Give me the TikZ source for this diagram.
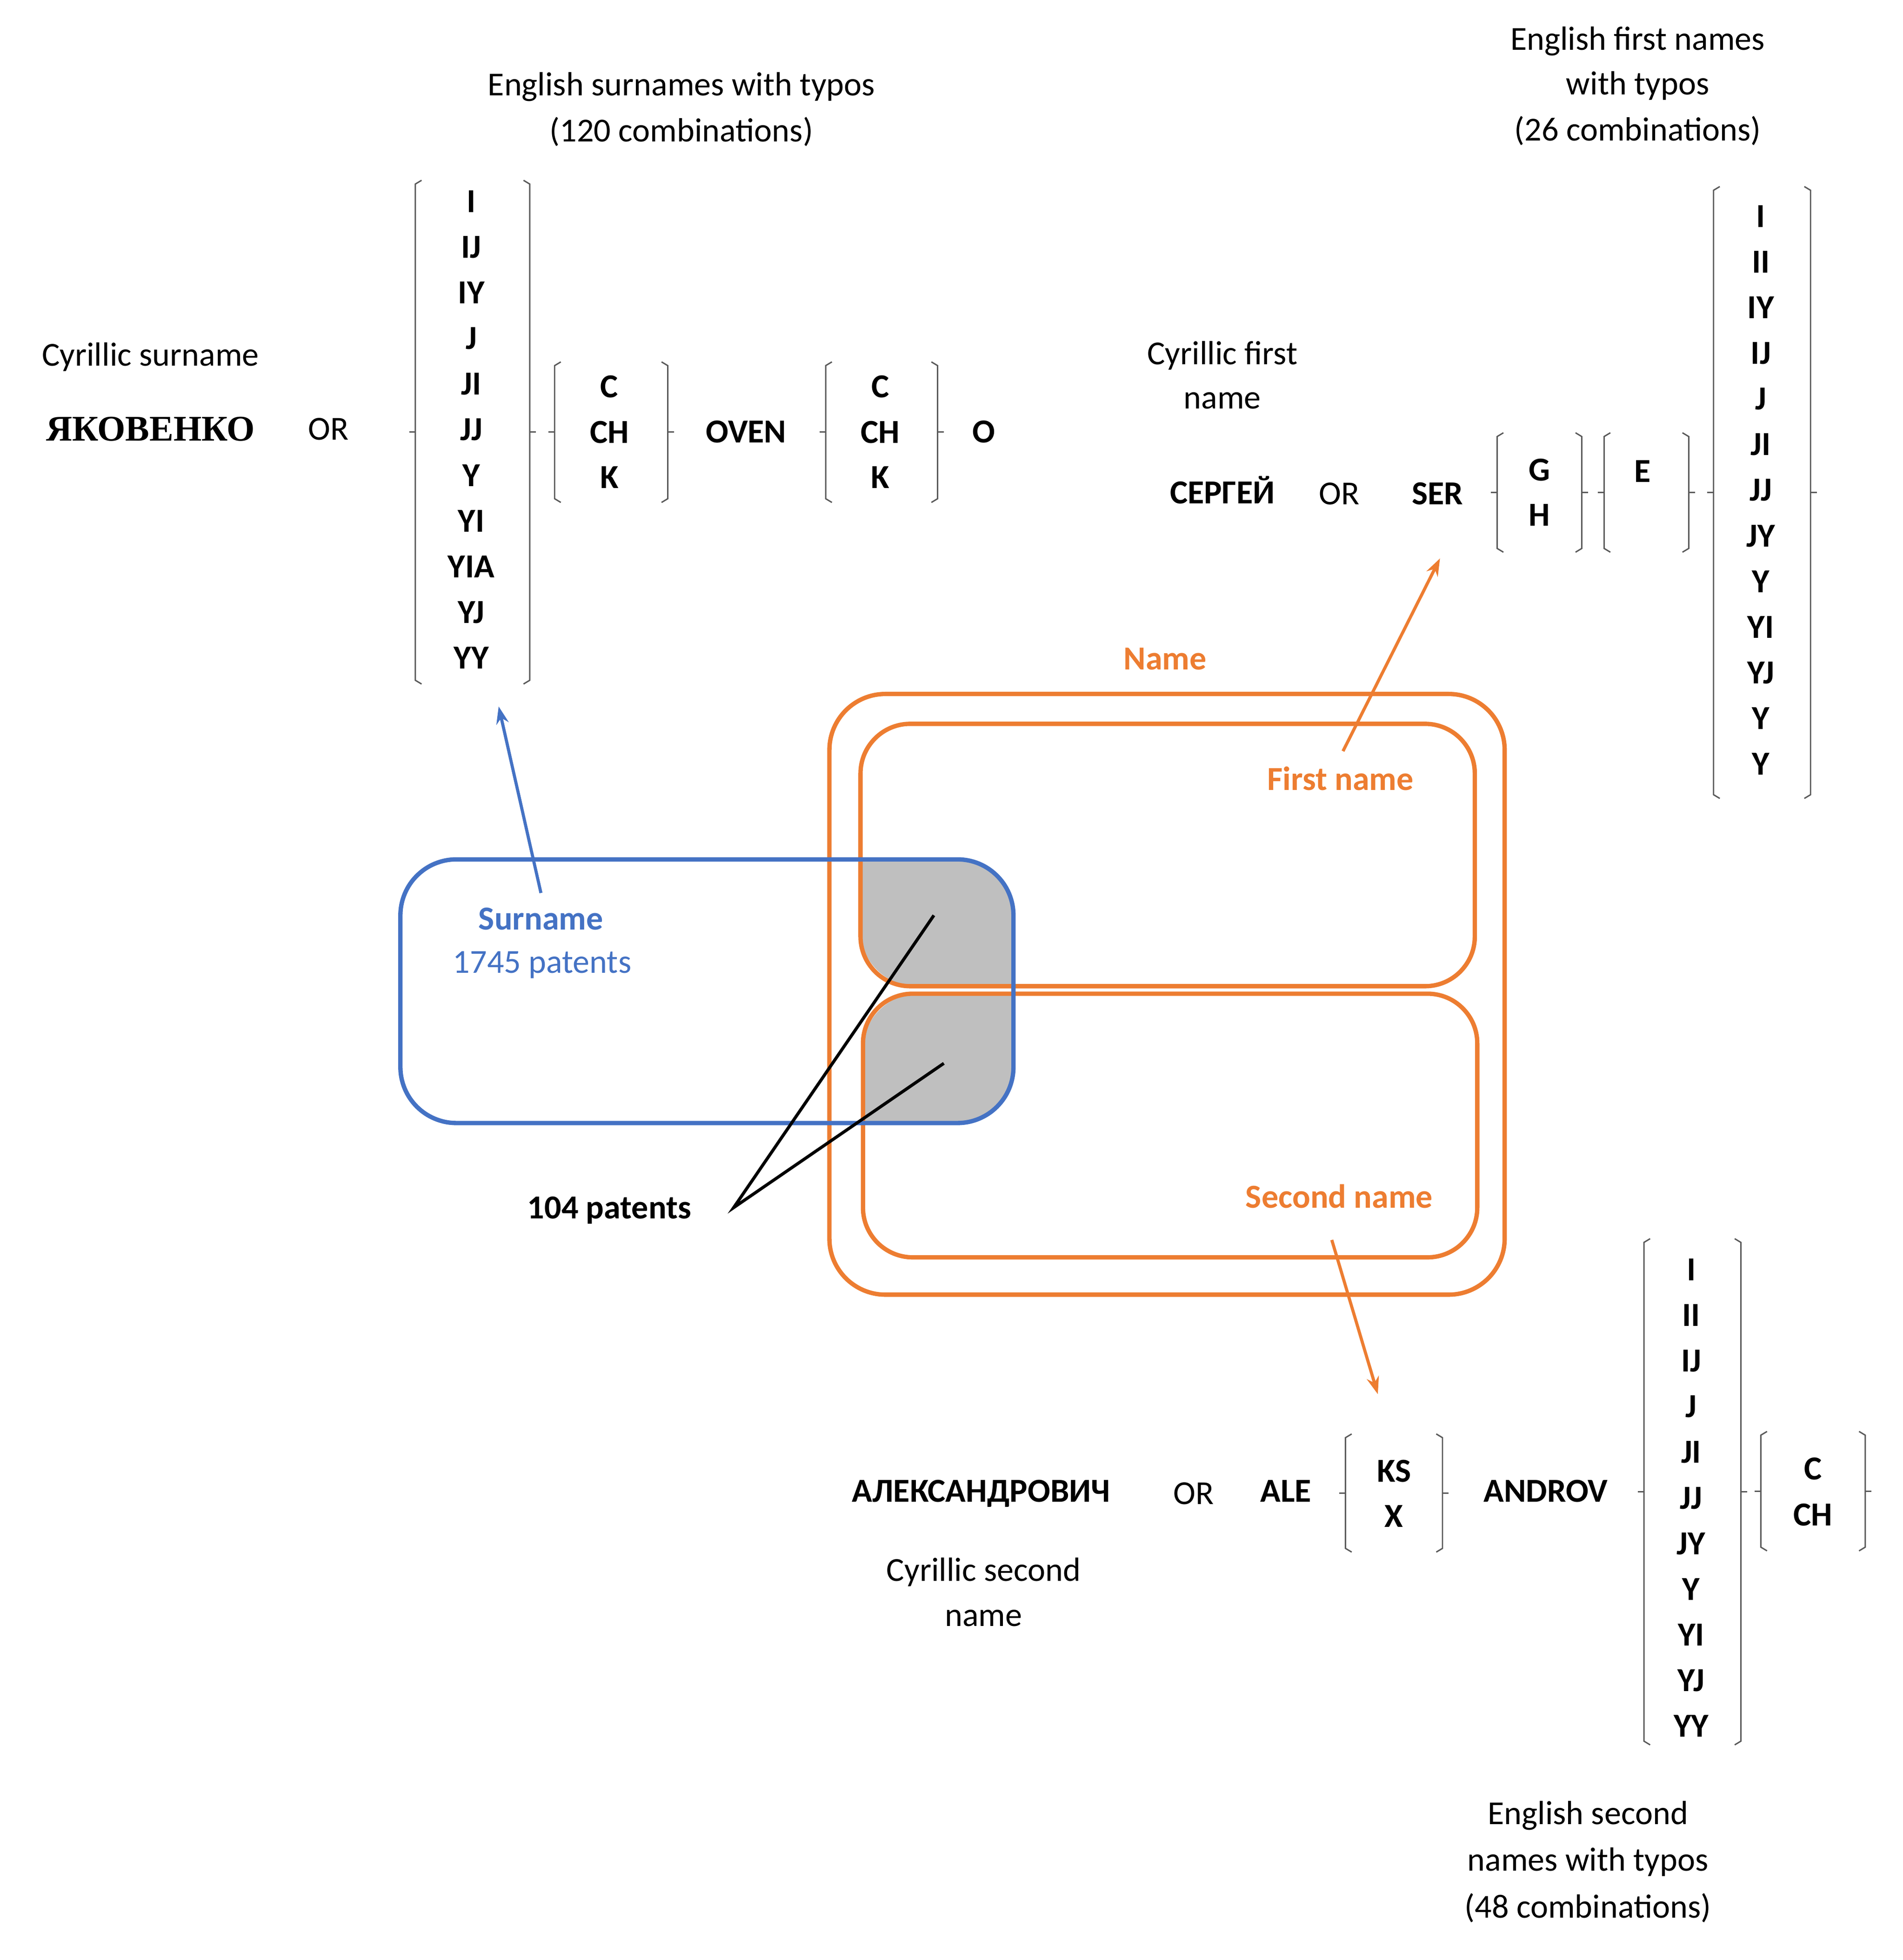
\documentclass[tikz,border=0pt]{standalone}
\usepackage{fontspec}
\setmainfont{Carlito}
\newfontfamily\serifcyr{Liberation Serif}
\usetikzlibrary{arrows.meta}
\definecolor{orng}{HTML}{ED7D31}
\definecolor{blu}{HTML}{4472C4}
\definecolor{gry}{HTML}{BFBFBF}
\tikzset{
 t/.style={font=\fontsize{27}{36}\selectfont,align=center,inner sep=0pt},
 b/.style={t,font=\fontsize{27}{36}\selectfont\bfseries},
 brk/.style={draw=black!65,line width=1.1pt},
 ob/.style={draw=orng,line width=3.5pt,rounded corners=45pt},
 arr/.style={line width=2.5pt,-{Stealth[length=14pt,width=10pt]}},
}
\newcommand{\mybrk}[4]{%
 \draw[brk] (#1+5,#2)--(#1,#2+3)--(#1,#4-3)--(#1+5,#4);
 \draw[brk] (#3-5,#2)--(#3,#2+3)--(#3,#4-3)--(#3-5,#4);
 \draw[brk] (#1-5,{(#2+#4)/2})--(#1,{(#2+#4)/2});
 \draw[brk] (#3,{(#2+#4)/2})--(#3+5,{(#2+#4)/2});}
\begin{document}
\begin{tikzpicture}[x=1pt,y=-1pt]
\useasboundingbox (0,0) rectangle (1530,1576);
% gray intersections
\begin{scope}
\clip[rounded corners=45pt] (322,691) rectangle (815,903);
\fill[gry,rounded corners=45pt] (692,582) rectangle (1186,793);
\fill[gry,rounded corners=45pt] (694,799) rectangle (1188,1011);
\end{scope}
\draw[ob] (667,558) rectangle (1210,1041);
\draw[ob,rounded corners=40pt] (692,582) rectangle (1186,793);
\draw[ob,rounded corners=40pt] (694,799) rectangle (1188,1011);
\draw[draw=blu,line width=3.5pt,rounded corners=45pt] (322,691) rectangle (815,903);
% labels
\node[b,text=orng] (nm) at (937,530) {Name};
\node[b,text=orng] (fn) at (1078,626) {First name};
\node[b,text=orng] (sn) at (1077,962) {Second name};
\node[b,text=blu] (su) at (435,739) {Surname};
\node[t,text=blu] (sp) at (436,776) {1745 patents};
\node[b] (pt) at (490,973) {104 patents};
\coordinate (pa) at (590,971);
\coordinate (g1) at (751,736);
\coordinate (g2) at (759,855);
\draw[line width=2.5pt] (g1)--(pa)--(g2);
% arrows
\coordinate (ba) at (435,718); \coordinate (bb) at (401,568);
\draw[arr,blu] (ba)--(bb);
\coordinate (oa) at (1080,604); \coordinate (obb) at (1158,449);
\draw[arr,orng] (oa)--(obb);
\coordinate (sa) at (1071,997); \coordinate (sb) at (1108,1121);
\draw[arr,orng] (sa)--(sb);
% surname
\node[t] (es1) at (548,70) {English surnames with typos};
\node[t] (es2) at (548,106) {(120 combinations)};
\node[t] (cs) at (121,287) {Cyrillic surname};
\node[inner sep=0pt,font=\fontsize{29}{36}\selectfont\serifcyr\bfseries] (ys) at (121,345) {ЯКОВЕНКО};
\node[t] (or1) at (264,345) {OR};
\mybrk{334}{145}{426}{550}
\foreach \s [count=\i from 0] in {I,IJ,IY,J,JI,JJ,Y,YI,YIA,YJ,YY}
  \node[b] (sa\i) at (379,162+36.7*\i) {\s};
\mybrk{446}{291}{537}{404}
\foreach \s [count=\i from 0] in {C,CH,K} \node[b] (sc\i) at (490,311+36.5*\i) {\s};
\node[b] (oven) at (600,347) {OVEN};
\mybrk{664}{291}{754}{404}
\foreach \s [count=\i from 0] in {C,CH,K} \node[b] (sd\i) at (708,311+36.5*\i) {\s};
\node[b] (oo) at (791,347) {O};
% first name
\node[t] (ef1) at (1317,33) {English first names};
\node[t] (ef2) at (1317,69) {with typos};
\node[t] (ef3) at (1317,105) {(26 combinations)};
\node[t] (cf1) at (983,286) {Cyrillic first};
\node[t] (cf2) at (983,322) {name};
\node[b] (serg) at (983,394) {СЕРГЕЙ};
\node[t] (or2) at (1077,397) {OR};
\node[b] (ser) at (1156,397) {SER};
\mybrk{1204}{348}{1272}{444}
\node[b] (fg) at (1238,378) {G};
\node[b] (fh) at (1238,414) {H};
\mybrk{1290}{348}{1358}{444}
\node[b] (fe) at (1321,379) {E};
\mybrk{1378}{150}{1456}{642}
\foreach \s [count=\i from 0] in {I,II,IY,IJ,J,JI,JJ,JY,Y,YI,YJ,Y,Y}
  \node[b] (fa\i) at (1416,174+36.7*\i) {\s};
% second name
\node[b] (alek) at (789,1201) {АЛЕКСАНДРОВИЧ};
\node[t] (or3) at (960,1201) {OR};
\node[b] (ale) at (1034,1199) {ALE};
\mybrk{1082}{1153}{1160}{1248}
\node[b] (ks) at (1121,1183) {KS};
\node[b] (kx) at (1121,1219) {X};
\node[b] (andr) at (1243,1199) {ANDROV};
\mybrk{1322}{996}{1400}{1403}
\foreach \s [count=\i from 0] in {I,II,IJ,J,JI,JJ,JY,Y,YI,YJ,YY}
  \node[b] (na\i) at (1360,1021+36.7*\i) {\s};
\mybrk{1416}{1151}{1500}{1247}
\node[b] (nc) at (1458,1181) {C};
\node[b] (nch) at (1458,1218) {CH};
\node[t] (cn1) at (791,1264) {Cyrillic second};
\node[t] (cn2) at (791,1301) {name};
\node[t] (en1) at (1277,1460) {English second};
\node[t] (en2) at (1277,1497) {names with typos};
\node[t] (en3) at (1277,1534) {(48 combinations)};
\end{tikzpicture}
\end{document}
